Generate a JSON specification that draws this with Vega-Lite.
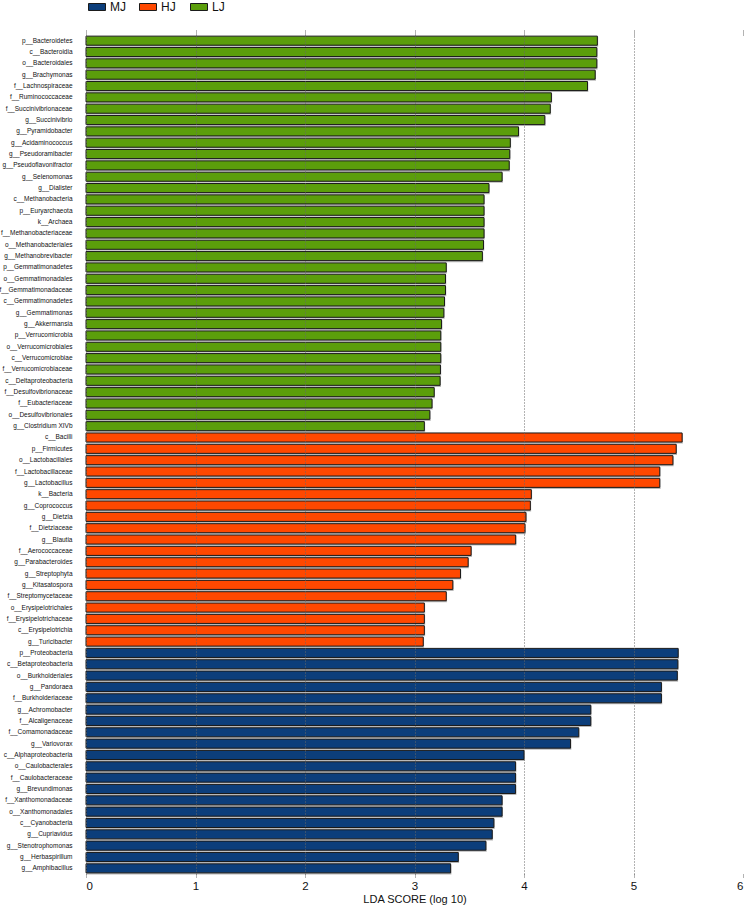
{
  "$schema": "https://vega.github.io/schema/vega-lite/v6.json",
  "autosize": {"type": "none"},
  "padding": {"left": 86, "top": 35, "right": 4, "bottom": 32},
  "width": 657,
  "height": 839,
  "background": "white",
  "config": {"view": {"stroke": null}, "font": "Liberation Sans"},
  "data": {"values": [
    {"t": "p__Bacteroidetes", "g": "LJ", "v": 4.67},
    {"t": "c__Bacteroidia", "g": "LJ", "v": 4.665},
    {"t": "o__Bacteroidales", "g": "LJ", "v": 4.665},
    {"t": "g__Brachymonas", "g": "LJ", "v": 4.65},
    {"t": "f__Lachnospiraceae", "g": "LJ", "v": 4.58},
    {"t": "f__Ruminococcaceae", "g": "LJ", "v": 4.25},
    {"t": "f__Succinivibrionaceae", "g": "LJ", "v": 4.24},
    {"t": "g__Succinivibrio", "g": "LJ", "v": 4.19},
    {"t": "g__Pyramidobacter", "g": "LJ", "v": 3.95},
    {"t": "g__Acidaminococcus", "g": "LJ", "v": 3.875},
    {"t": "g__Pseudoramibacter", "g": "LJ", "v": 3.87},
    {"t": "g__Pseudoflavonifractor", "g": "LJ", "v": 3.865},
    {"t": "g__Selenomonas", "g": "LJ", "v": 3.8},
    {"t": "g__Dialister", "g": "LJ", "v": 3.68},
    {"t": "c__Methanobacteria", "g": "LJ", "v": 3.635},
    {"t": "p__Euryarchaeota", "g": "LJ", "v": 3.635},
    {"t": "k__Archaea", "g": "LJ", "v": 3.635},
    {"t": "f__Methanobacteriaceae", "g": "LJ", "v": 3.635},
    {"t": "o__Methanobacteriales", "g": "LJ", "v": 3.63},
    {"t": "g__Methanobrevibacter", "g": "LJ", "v": 3.62},
    {"t": "p__Gemmatimonadetes", "g": "LJ", "v": 3.29},
    {"t": "o__Gemmatimonadales", "g": "LJ", "v": 3.283},
    {"t": "f__Gemmatimonadaceae", "g": "LJ", "v": 3.283},
    {"t": "c__Gemmatimonadetes", "g": "LJ", "v": 3.274},
    {"t": "g__Gemmatimonas", "g": "LJ", "v": 3.268},
    {"t": "g__Akkermansia", "g": "LJ", "v": 3.247},
    {"t": "p__Verrucomicrobia", "g": "LJ", "v": 3.24},
    {"t": "o__Verrucomicrobiales", "g": "LJ", "v": 3.24},
    {"t": "c__Verrucomicrobiae", "g": "LJ", "v": 3.24},
    {"t": "f__Verrucomicrobiaceae", "g": "LJ", "v": 3.237},
    {"t": "c__Deltaproteobacteria", "g": "LJ", "v": 3.234},
    {"t": "f__Desulfovibrionaceae", "g": "LJ", "v": 3.18},
    {"t": "f__Eubacteriaceae", "g": "LJ", "v": 3.16},
    {"t": "o__Desulfovibrionales", "g": "LJ", "v": 3.14},
    {"t": "g__Clostridium XIVb", "g": "LJ", "v": 3.09},
    {"t": "c__Bacilli", "g": "HJ", "v": 5.444},
    {"t": "p__Firmicutes", "g": "HJ", "v": 5.39},
    {"t": "o__Lactobacillales", "g": "HJ", "v": 5.36},
    {"t": "f__Lactobacillaceae", "g": "HJ", "v": 5.24},
    {"t": "g__Lactobacillus", "g": "HJ", "v": 5.24},
    {"t": "k__Bacteria", "g": "HJ", "v": 4.067},
    {"t": "g__Coprococcus", "g": "HJ", "v": 4.058},
    {"t": "g__Dietzia", "g": "HJ", "v": 4.018},
    {"t": "f__Dietziaceae", "g": "HJ", "v": 4.009},
    {"t": "g__Blautia", "g": "HJ", "v": 3.924},
    {"t": "f__Aerococcaceae", "g": "HJ", "v": 3.517},
    {"t": "g__Parabacteroides", "g": "HJ", "v": 3.49},
    {"t": "g__Streptophyta", "g": "HJ", "v": 3.42},
    {"t": "g__Kitasatospora", "g": "HJ", "v": 3.35},
    {"t": "f__Streptomycetaceae", "g": "HJ", "v": 3.29},
    {"t": "o__Erysipelotrichales", "g": "HJ", "v": 3.09},
    {"t": "f__Erysipelotrichaceae", "g": "HJ", "v": 3.09},
    {"t": "c__Erysipelotrichia", "g": "HJ", "v": 3.09},
    {"t": "g__Turicibacter", "g": "HJ", "v": 3.08},
    {"t": "p__Proteobacteria", "g": "MJ", "v": 5.408},
    {"t": "c__Betaproteobacteria", "g": "MJ", "v": 5.405},
    {"t": "o__Burkholderiales", "g": "MJ", "v": 5.4},
    {"t": "g__Pandoraea", "g": "MJ", "v": 5.255},
    {"t": "f__Burkholderiaceae", "g": "MJ", "v": 5.255},
    {"t": "g__Achromobacter", "g": "MJ", "v": 4.61},
    {"t": "f__Alcaligenaceae", "g": "MJ", "v": 4.61},
    {"t": "f__Comamonadaceae", "g": "MJ", "v": 4.5},
    {"t": "g__Variovorax", "g": "MJ", "v": 4.425},
    {"t": "c__Alphaproteobacteria", "g": "MJ", "v": 4.0},
    {"t": "o__Caulobacterales", "g": "MJ", "v": 3.923},
    {"t": "f__Caulobacteraceae", "g": "MJ", "v": 3.923},
    {"t": "g__Brevundimonas", "g": "MJ", "v": 3.923},
    {"t": "f__Xanthomonadaceae", "g": "MJ", "v": 3.8},
    {"t": "o__Xanthomonadales", "g": "MJ", "v": 3.8},
    {"t": "c__Cyanobacteria", "g": "MJ", "v": 3.725},
    {"t": "g__Cupriavidus", "g": "MJ", "v": 3.71},
    {"t": "g__Stenotrophomonas", "g": "MJ", "v": 3.652},
    {"t": "g__Herbaspirillum", "g": "MJ", "v": 3.4},
    {"t": "g__Amphibacillus", "g": "MJ", "v": 3.33}
  ]},
  "encoding": {
    "y": {
      "field": "t", "type": "nominal", "sort": null,
      "scale": {"paddingInner": 0, "paddingOuter": 0},
      "axis": {"title": null, "ticks": false, "domain": false, "grid": false,
               "labelFont": "Liberation Sans", "labelFontSize": 6.5, "labelColor": "#111",
               "labelPadding": 14, "labelLimit": 200}
    }
  },
  "layer": [
    {
      "mark": {"type": "bar", "color": "#b8b8b8", "height": {"band": 0.86}, "yOffset": 1.2, "xOffset": 0.8},
      "encoding": {
        "x": {"field": "v", "type": "quantitative",
              "scale": {"domain": [0, 6], "nice": false, "zero": true},
              "axis": {"orient": "top", "values": [0, 1, 2, 3, 4, 5, 6], "labels": false, "title": null,
                       "domain": false, "grid": false, "ticks": true, "tickSize": 5,
                       "tickColor": "#666", "tickDash": [1, 1]}}
      }
    },
    {
      "mark": {"type": "bar", "height": {"band": 0.8}, "stroke": "#1a1a1a", "strokeWidth": 1},
      "encoding": {
        "x": {
          "field": "v", "type": "quantitative",
          "scale": {"domain": [0, 6], "nice": false, "zero": true},
          "axis": {"orient": "bottom", "title": "LDA SCORE (log 10)", "values": [0, 1, 2, 3, 4, 5, 6], "format": "d",
                   "zindex": 1,
                   "domain": false, "grid": true, "gridDash": [1, 2], "gridColor": "#666", "gridWidth": 1,
                   "gridOpacity": {"condition": {"test": "datum.value == 6", "value": 0}, "value": 1},
                   "tickDash": [1, 1], "tickColor": "#666", "tickSize": 4,
                   "labelFontSize": 11.5, "labelColor": "#111", "labelPadding": 2,
                   "titleFontSize": 11, "titleFontWeight": "normal", "titleColor": "#111", "titlePadding": 2}
        },
        "color": {
          "field": "g", "type": "nominal",
          "scale": {"domain": ["MJ", "HJ", "LJ"], "range": ["#0c3e7b", "#ff4800", "#5b9e0b"]},
          "legend": {"title": null, "orient": "none", "legendX": 2, "legendY": -37,
                     "direction": "horizontal", "columns": 3, "gridAlign": "all", "columnPadding": 11,
                     "symbolType": "M-1,-0.41H1V0.41H-1Z", "symbolSize": 289,
                     "symbolStrokeColor": "#1a1a1a", "symbolStrokeWidth": 1, "symbolOpacity": 1,
                     "labelFontSize": 12, "labelColor": "#111", "labelOffset": 4}
        }
      }
    }
  ],
  "resolve": {"axis": {"x": "independent"}}
}
